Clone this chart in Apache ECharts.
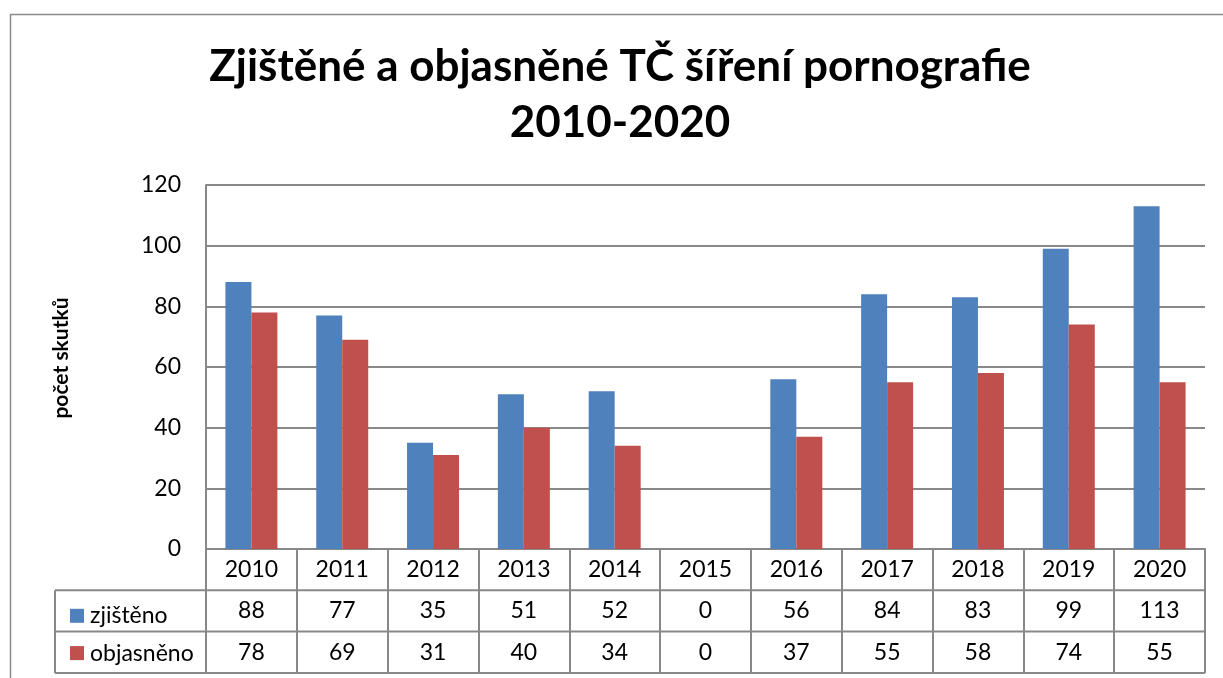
<!DOCTYPE html>
<html><head><meta charset="utf-8">
<script src="https://cdn.jsdelivr.net/npm/echarts@6/dist/echarts.min.js"></script>
<style>html,body{margin:0;padding:0;background:#fff}#c{width:1223px;height:678px}</style>
</head><body><div id="c"></div>
<script>
var years = ['2010','2011','2012','2013','2014','2015','2016','2017','2018','2019','2020'];
var zjisteno = [88,77,35,51,52,0,56,84,83,99,113];
var objasneno = [78,69,31,40,34,0,37,55,58,74,55];
var yTicks = [0,20,40,60,80,100,120];
var seriesNames = ['zjištěno','objasněno'];

var GL = 206, GT = 185, GW = 999, GH = 364;
var ROW = 41.3;
var TL = 55;
var lineCol = '#888888';
var font = 'Lato, "Open Sans", sans-serif';
var FS = 23;

var chart = echarts.init(document.getElementById('c'));
var graphics = [
  {type:'rect', shape:{x:10.5,y:14.5,width:1300,height:800}, style:{fill:'none',stroke:'#8a8a8a',lineWidth:1.5}, silent:true},
  {type:'line', shape:{x1:TL,y1:GT+GH+ROW,x2:TL,y2:GT+GH+3*ROW}, style:{stroke:lineCol,lineWidth:2}},
];
for (var r=1;r<=3;r++){
  graphics.push({type:'line', shape:{x1:TL,y1:GT+GH+r*ROW,x2:GL+GW,y2:GT+GH+r*ROW}, style:{stroke:lineCol,lineWidth:2}});
}
chart.setOption({
  animation:false,
  textStyle:{fontFamily:font},
  title:{
    text:'Zjištěné a objasněné TČ šíření pornografie\n2010-2020',
    left:615, top:34, textAlign:'center',
    textStyle:{fontFamily:font,fontWeight:'bold',fontSize:44,lineHeight:56,color:'#000'}
  },
  legend:{
    orient:'vertical', left:65, top:GT+GH+ROW+9,
    itemWidth:14, itemHeight:14, itemGap:ROW-27, icon:'rect',
    textStyle:{fontFamily:font,fontSize:FS,color:'#000',lineHeight:23,padding:[0,0,0,1]},
    data:seriesNames
  },
  graphic:graphics,
  grid:{left:GL, top:GT, width:GW, height:GH, containLabel:false},
  xAxis:{
    type:'category', data:years, boundaryGap:true,
    axisLine:{show:true,lineStyle:{color:lineCol,width:2}},
    axisTick:{show:true,interval:0,length:3*ROW,lineStyle:{color:lineCol,width:2}},
    axisLabel:{
      interval:0, margin:0,
      formatter:function(v,i){ return '{y|'+v+'}\n{a|'+zjisteno[i]+'}\n{b|'+objasneno[i]+'}'; },
      rich:{
        y:{fontSize:FS,lineHeight:ROW,fontFamily:font,color:'#000'},
        a:{fontSize:FS,lineHeight:ROW,fontFamily:font,color:'#000'},
        b:{fontSize:FS,lineHeight:ROW,fontFamily:font,color:'#000'}
      }
    }
  },
  yAxis:{
    type:'value', min:0, max:120, interval:20,
    name:'počet skutků', nameLocation:'middle', nameGap:134, nameRotate:90,
    nameTextStyle:{fontFamily:font,fontWeight:'bold',fontSize:21,color:'#000',padding:[0,0,0,18]},
    axisLine:{show:true,lineStyle:{color:lineCol,width:2}},
    axisTick:{show:false},
    axisLabel:{fontSize:FS,color:'#000',margin:25,fontFamily:font,
      formatter:function(v){ return yTicks.indexOf(v)>=0 ? String(v) : ''; }},
    splitLine:{show:true,lineStyle:{color:lineCol,width:2}}
  },
  series:[
    {name:seriesNames[0], type:'bar', data:zjisteno, barWidth:26, barGap:'0%',
     itemStyle:{color:'#4F81BD'}},
    {name:seriesNames[1], type:'bar', data:objasneno, barWidth:26, barGap:'0%',
     itemStyle:{color:'#C0504D'}}
  ]
});
</script></body></html>
